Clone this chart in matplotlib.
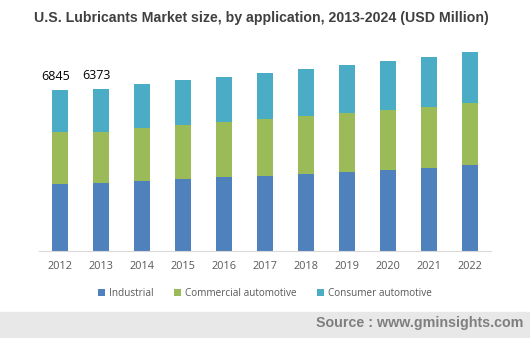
import numpy as np
import matplotlib.pyplot as plt

years = ['2012', '2013', '2014', '2015', '2016', '2017', '2018', '2019', '2020', '2021', '2022']
industrial = [2850, 2890, 2975, 3060, 3145, 3190, 3275, 3360, 3445, 3530, 3655]
commercial = [2210, 2170, 2250, 2295, 2340, 2420, 2465, 2510, 2550, 2595, 2650]
consumer = [1785, 1830, 1870, 1910, 1915, 1955, 2000, 2040, 2085, 2125, 2170]
value_labels = {0: '6845', 1: '6373'}

fig = plt.figure(figsize=(5.3, 3.38), dpi=100)
ax = fig.add_axes([0.0736, 0.2574, 0.8528, 0.6266])

x = np.arange(len(years))
w = 0.39
ind = np.array(industrial)
com = np.array(commercial)
con = np.array(consumer)
ax.bar(x, ind, w, color='#4F81BD', label='Industrial')
ax.bar(x, com, w, bottom=ind, color='#9BBB59', label='Commercial automotive')
ax.bar(x, con, w, bottom=ind + com, color='#4BACC6', label='Consumer automotive')

total = ind + com + con
for i, txt in value_labels.items():
    ax.annotate(txt, (x[i], total[i]), xytext=(-3, 5), textcoords='offset points',
                ha='center', va='bottom', fontsize=9, family='Open Sans', color='black')

ax.set_xlim(-0.51, 10.51)
ax.set_ylim(0, 9000)
ax.set_xticks(x)
ax.set_xticklabels(years, fontsize=7.8, family='Open Sans', color='#595959')
ax.tick_params(axis='x', length=0, pad=7)
ax.set_yticks([])
for s in ['top', 'right', 'left']:
    ax.spines[s].set_visible(False)
ax.spines['bottom'].set_color('#d9d9d9')

fig.text(0.494, 0.948, 'U.S. Lubricants Market size, by application, 2013-2024 (USD Million)',
         ha='center', va='center', fontsize=10.2, fontweight='bold', family='Liberation Sans',
         color='#404040')

fig.legend(loc='center', bbox_to_anchor=(0.5, 0.133), ncol=3, frameon=False,
           prop={'family': 'Open Sans', 'size': 7.2}, labelcolor='#595959',
           handlelength=0.7, handleheight=0.7, handletextpad=0.4, columnspacing=2.0)

fig.patches.append(plt.Rectangle((0, 0), 1, 26 / 338, transform=fig.transFigure,
                                 color='#e8e8e8', zorder=0))
fig.text(0.987, 0.044, 'Source : www.gminsights.com', ha='right', va='center',
         fontsize=10.3, fontweight='bold', family='Liberation Sans', color='#7f7f7f')

fig.savefig('out.png', dpi=100)
